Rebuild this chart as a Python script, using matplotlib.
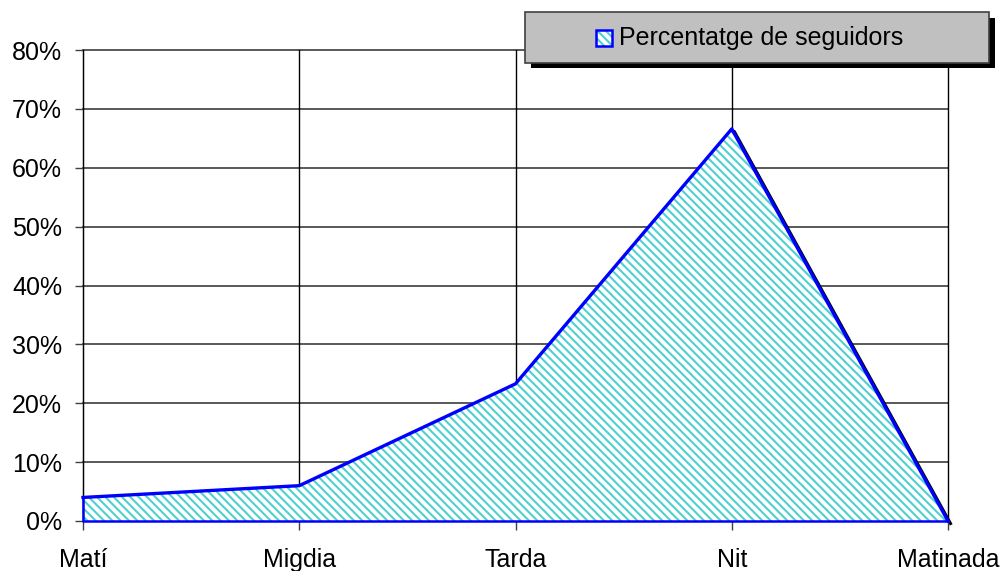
import matplotlib
matplotlib.use("Agg")
from matplotlib import pyplot as plt
from matplotlib.patches import Rectangle
import matplotlib.transforms as mtransforms

plt.rcParams['font.family'] = ['Liberation Sans', 'DejaVu Sans']
plt.rcParams['hatch.linewidth'] = 1.5

# data
moments = ['Matí', 'Migdia', 'Tarda', 'Nit', 'Matinada']
seguidors = [0.04, 0.06, 0.233, 0.666, 0.0]
series_label = 'Percentatge de seguidors'
y_ticks = [0, 0.1, 0.2, 0.3, 0.4, 0.5, 0.6, 0.7, 0.8]

W, H = 1003, 571
fig = plt.figure(figsize=(W / 100, H / 100), dpi=100)
ax = fig.add_axes([83 / W, 1 - 521 / H, (948 - 83) / W, (521 - 50) / H])

x = list(range(len(moments)))
hatch_col = '#4fd0d0'
blue = '#0000ff'

# gridlines
for t in y_ticks[1:]:
    ax.axhline(t, color='#3c3c3c', lw=1.2, zorder=0.5, clip_on=False)
for xi in x:
    ax.axvline(xi, color='black', lw=1.0, zorder=0.5, clip_on=False)

# shadow of the series line
shadow = ax.transData + mtransforms.ScaledTranslation(2.5 / 100, -2.5 / 100, fig.dpi_scale_trans)
ax.plot(x, seguidors, color='black', lw=2.2, transform=shadow, zorder=1, clip_on=False)

ax.fill_between(x, 0, seguidors, facecolor='white', edgecolor=hatch_col,
                hatch='\\\\\\\\', lw=0, zorder=2)
ax.plot(x, seguidors, color=blue, lw=2.4, zorder=3, clip_on=False)
ax.plot([x[0], x[0], x[-1]], [seguidors[0], 0, 0], color=blue, lw=1.8, zorder=3, clip_on=False)

ax.set_xlim(x[0], x[-1])
ax.set_ylim(0, 0.8)
ax.set_yticks(y_ticks)
ax.set_yticklabels(['{:.0%}'.format(t) for t in y_ticks])
ax.set_xticks(x)
ax.set_xticklabels(moments)
for s in ['top', 'right', 'bottom']:
    ax.spines[s].set_visible(False)
ax.spines['left'].set_color('black')
ax.tick_params(axis='y', length=6, width=1, color='#404040', pad=9, labelsize=18)
ax.tick_params(axis='x', length=6.5, width=1, color='#404040', pad=13, labelsize=18)

# legend box drawn by hand
def fx(px):
    return px / W

def fy(py):
    return 1 - py / H

fig.patches.append(Rectangle((fx(531), fy(68)), fx(995) - fx(531), fy(18) - fy(68),
                             transform=fig.transFigure, facecolor='black', edgecolor='none', zorder=5))
fig.patches.append(Rectangle((fx(525), fy(63)), fx(989) - fx(525), fy(12) - fy(63),
                             transform=fig.transFigure, facecolor='#c0c0c0', edgecolor='#404040',
                             lw=1.2, zorder=6))
fig.patches.append(Rectangle((fx(596), fy(46)), fx(612) - fx(596), fy(30) - fy(46),
                             transform=fig.transFigure, facecolor='white', edgecolor=hatch_col,
                             hatch='\\\\\\\\', lw=0, zorder=7))
fig.patches.append(Rectangle((fx(596), fy(46)), fx(612) - fx(596), fy(30) - fy(46),
                             transform=fig.transFigure, facecolor='none', edgecolor=blue,
                             lw=1.8, zorder=8))
fig.text(fx(619), fy(38), series_label, fontsize=18, va='center', ha='left', zorder=9)

fig.savefig('out.png', dpi=100)
